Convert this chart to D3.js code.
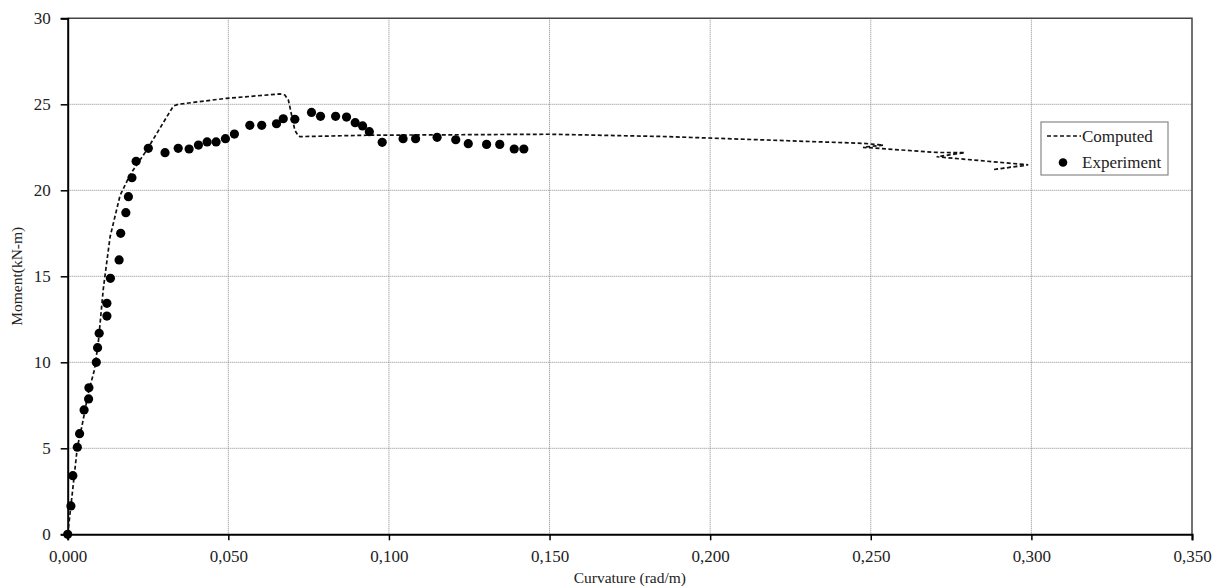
<!DOCTYPE html>
<html>
<head>
<meta charset="utf-8">
<script src="https://cdn.jsdelivr.net/npm/d3@7/dist/d3.min.js"></script>
<style>
  body { margin: 0; background: #fff; }
  text { font-family: "Liberation Serif", "Times New Roman", serif; fill: #222; }
</style>
</head>
<body>
<svg id="chart" width="1218" height="587"></svg>
<script>
// measured points (curvature rad/m, moment kN-m)
const expCurv = [0, 0.0010, 0.0016, 0.0030, 0.0037, 0.0051, 0.0065, 0.0066, 0.0089, 0.0093,
  0.0098, 0.0122, 0.0122, 0.0133, 0.0160, 0.0165, 0.0181, 0.0189, 0.0200, 0.0213,
  0.0251, 0.0303, 0.0344, 0.0378, 0.0407, 0.0434, 0.0462, 0.0491, 0.0519, 0.0567,
  0.0604, 0.0650, 0.0671, 0.0707, 0.0759, 0.0787, 0.0834, 0.0868, 0.0895, 0.0918,
  0.0939, 0.0979, 0.1044, 0.1083, 0.1150, 0.1208, 0.1247, 0.1304, 0.1345, 0.1390, 0.1420];
const expMoment = [0, 1.65, 3.41, 5.06, 5.85, 7.23, 7.87, 8.52, 10.0, 10.85,
  11.69, 12.69, 13.43, 14.88, 15.95, 17.5, 18.7, 19.63, 20.73, 21.69,
  22.44, 22.19, 22.44, 22.4, 22.63, 22.81, 22.81, 23.0, 23.27, 23.78,
  23.78, 23.87, 24.16, 24.13, 24.53, 24.3, 24.3, 24.26, 23.93, 23.74,
  23.41, 22.79, 23.0, 23.0, 23.08, 22.94, 22.71, 22.67, 22.67, 22.4, 22.4];

// computed curve
const compCurv = [0, 0.0015, 0.0030, 0.0044, 0.0064, 0.0083, 0.0095, 0.0111, 0.0132, 0.0163,
  0.0194, 0.0246, 0.0329, 0.0344, 0.0495, 0.0661, 0.0676, 0.0687, 0.0707, 0.0718,
  0.0723, 0.0930, 0.1500, 0.1870, 0.2243, 0.2476, 0.2539, 0.2476, 0.2705, 0.2793,
  0.2705, 0.2990, 0.2880, 0.2990];
const compMoment = [0, 2.5, 5.06, 6.26, 8.2, 9.55, 11.1, 14.3, 17.3, 19.7,
  20.9, 22.34, 24.9, 25.0, 25.35, 25.6, 25.54, 25.25, 23.5, 23.15,
  23.12, 23.2, 23.26, 23.12, 22.88, 22.73, 22.63, 22.5, 22.2, 22.19,
  21.95, 21.48, 21.2, 21.47];

const xTicks = [0, 0.05, 0.1, 0.15, 0.2, 0.25, 0.3, 0.35];
const yTicks = [0, 5, 10, 15, 20, 25, 30];

const svg = d3.select('#chart');
const plotL = 67.7, plotR = 1192, plotT = 18.3, plotB = 534.3;

const x = d3.scaleLinear().domain([0, 0.35]).range([plotL, plotR]);
const y = d3.scaleLinear().domain([0, 30]).range([plotB, plotT]);

// grid
const grid = svg.append('g')
  .attr('stroke', '#8a8a8a')
  .attr('stroke-width', 1)
  .attr('stroke-dasharray', '1,1');
grid.selectAll('line.v')
  .data(xTicks.slice(1, -1))
  .join('line')
  .attr('class', 'v')
  .attr('x1', d => x(d)).attr('x2', d => x(d))
  .attr('y1', plotT).attr('y2', plotB);
grid.selectAll('line.h')
  .data(yTicks.slice(1, -1))
  .join('line')
  .attr('class', 'h')
  .attr('x1', plotL).attr('x2', plotR)
  .attr('y1', d => y(d)).attr('y2', d => y(d));

// frame top/right
svg.append('path')
  .attr('d', `M${plotL},${plotT}H${plotR}V${plotB}`)
  .attr('fill', 'none')
  .attr('stroke', '#444')
  .attr('stroke-width', 1.5);

// axes
const fmt = d => d3.format('.3f')(d).replace('.', ',');
const xAxis = svg.append('g')
  .attr('transform', `translate(0,${plotB})`)
  .call(d3.axisBottom(x).tickValues(xTicks).tickFormat(fmt).tickSize(6).tickPadding(10));
const yAxis = svg.append('g')
  .attr('transform', `translate(${plotL},0)`)
  .call(d3.axisLeft(y).tickValues(yTicks).tickSize(7).tickPadding(10));

[xAxis, yAxis].forEach(a => {
  a.select('.domain').attr('stroke', '#000').attr('stroke-width', 2);
  a.selectAll('.tick line').attr('stroke', '#000').attr('stroke-width', 1.5);
  a.selectAll('.tick text')
    .attr('font-family', '"Liberation Serif", serif')
    .attr('font-size', 17)
    .attr('fill', '#222');
});

// axis titles
svg.append('text')
  .attr('x', (plotL + plotR) / 2)
  .attr('y', 583)
  .attr('text-anchor', 'middle')
  .attr('font-size', 15.5)
  .text('Curvature (rad/m)');
svg.append('text')
  .attr('transform', `translate(22,${(plotT + plotB) / 2}) rotate(-90)`)
  .attr('text-anchor', 'middle')
  .attr('font-size', 15.5)
  .text('Moment(kN-m)');

// computed line
const compData = compCurv.map((c, i) => [c, compMoment[i]]);
svg.append('path')
  .datum(compData)
  .attr('fill', 'none')
  .attr('stroke', '#111')
  .attr('stroke-width', 1.7)
  .attr('stroke-dasharray', '4,2.5')
  .attr('d', d3.line().x(d => x(d[0])).y(d => y(d[1])));

// experiment dots
svg.append('g')
  .selectAll('circle')
  .data(expCurv.map((c, i) => [c, expMoment[i]]))
  .join('circle')
  .attr('cx', d => x(d[0]))
  .attr('cy', d => y(d[1]))
  .attr('r', 4.6)
  .attr('fill', '#000');

// legend
const lg = svg.append('g');
lg.append('rect')
  .attr('x', 1041).attr('y', 122)
  .attr('width', 127).attr('height', 53)
  .attr('fill', '#fff')
  .attr('stroke', '#888')
  .attr('stroke-width', 1.2);
lg.append('line')
  .attr('x1', 1047).attr('x2', 1081)
  .attr('y1', 136).attr('y2', 136)
  .attr('stroke', '#111')
  .attr('stroke-width', 1.7)
  .attr('stroke-dasharray', '4,2.5');
lg.append('text')
  .attr('x', 1082).attr('y', 142)
  .attr('font-size', 17)
  .text('Computed');
lg.append('circle')
  .attr('cx', 1063).attr('cy', 162.5)
  .attr('r', 4.3)
  .attr('fill', '#000');
lg.append('text')
  .attr('x', 1082).attr('y', 168)
  .attr('font-size', 17)
  .text('Experiment');
</script>
</body>
</html>
